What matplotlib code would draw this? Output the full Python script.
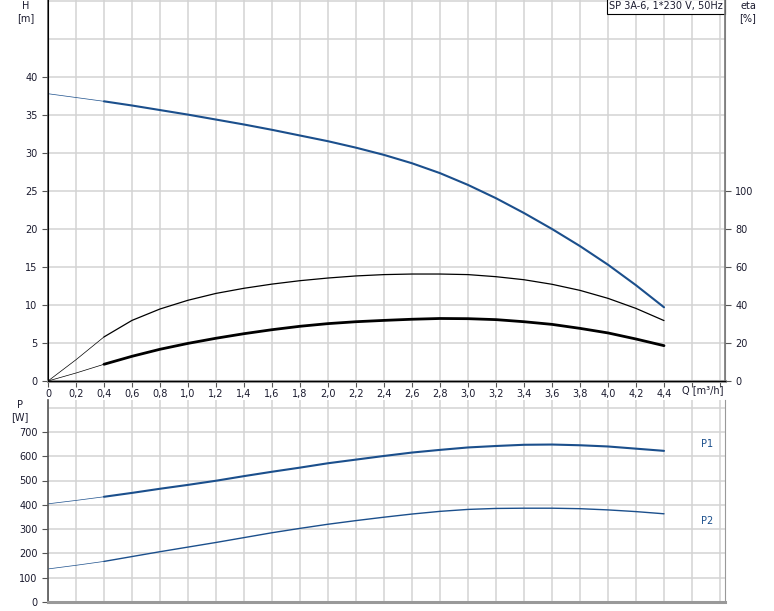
import matplotlib
matplotlib.use("Agg")
import matplotlib.pyplot as plt
import numpy as np

plt.rcParams['font.family'] = ['DejaVu Sans']
plt.rcParams['font.size'] = 7

# flow, m3/h
q = [0.0, 0.2, 0.4, 0.6, 0.8, 1.0, 1.2, 1.4, 1.6, 1.8, 2.0, 2.2,
     2.4, 2.6, 2.8, 3.0, 3.2, 3.4, 3.6, 3.8, 4.0, 4.2, 4.4]
# head, m
head = [37.8, 37.3, 36.8, 36.25, 35.65, 35.05, 34.4, 33.75, 33.05, 32.3, 31.55, 30.7,
        29.75, 28.65, 27.35, 25.8, 24.05, 22.1, 20.0, 17.75, 15.3, 12.6, 9.7]
# efficiency, %
eta_hyd = [0.0, 11.2, 23.2, 31.9, 37.9, 42.5, 46.1, 48.8, 51.0, 52.8, 54.2, 55.3,
           56.0, 56.3, 56.3, 56.0, 54.9, 53.3, 50.9, 47.7, 43.5, 38.2, 31.8]
eta_tot = [0.0, 4.2, 8.8, 13.0, 16.7, 19.8, 22.5, 24.9, 27.0, 28.8, 30.2, 31.2,
           31.9, 32.5, 32.9, 32.8, 32.3, 31.2, 29.8, 27.7, 25.3, 22.1, 18.6]
# power, W
p1 = [404, 418, 433, 449, 466, 482, 499, 518, 536, 553, 571, 586,
      601, 615, 626, 636, 642, 647, 648, 645, 640, 631, 622]
p2 = [136, 151, 167, 187, 207, 226, 245, 265, 285, 303, 320, 335,
      349, 362, 373, 381, 385, 386, 386, 384, 379, 372, 363]

x_ticks = [0, 0.2, 0.4, 0.6, 0.8, 1.0, 1.2, 1.4, 1.6, 1.8, 2.0, 2.2,
           2.4, 2.6, 2.8, 3.0, 3.2, 3.4, 3.6, 3.8, 4.0, 4.2, 4.4, 4.6, 4.8]
x_labels = [("%.1f" % v).replace(".", ",") if v > 0 else "0" for v in x_ticks[:23]] + ["", ""]

blue = "#1b4f8c"
grid_c = "#d3d3d3"
txt_c = "#1a1a2e"

fig = plt.figure(figsize=(7.74, 6.11), dpi=100)
ax = fig.add_axes([48 / 774, 1 - 381 / 611, 677 / 774, 381 / 611])
ax2 = ax.twinx()
axp = fig.add_axes([48 / 774, 1 - 602 / 611, 677 / 774, 202 / 611])

xmax = 677 / 140
ytop = 381 / 7.6

# first segment (0 - 0.4) drawn thin, rest of curve heavier
def two_part(a, xs, ys, lw, color):
    a.plot(xs[:3], ys[:3], color=color, lw=0.5, solid_capstyle="butt")
    a.plot(xs[2:], ys[2:], color=color, lw=lw, solid_capstyle="round",
           solid_joinstyle="round")

two_part(ax, q, head, 1.5, blue)
two_part(ax2, q, eta_hyd, 0.9, "black")
two_part(ax2, q, eta_tot, 2.0, "black")

two_part(axp, q, p1, 1.5, blue)
two_part(axp, q, p2, 1.0, blue)

for a in (ax, axp):
    a.set_xlim(0, xmax)
    a.set_xticks(x_ticks)
    a.grid(True, which="both", color=grid_c, lw=1.1)
    a.set_axisbelow(True)
    a.spines["top"].set_visible(False)
    a.spines["left"].set_color("#555555")
    a.spines["left"].set_linewidth(1.2)
    a.spines["bottom"].set_color("#999999")
    a.spines["bottom"].set_linewidth(2.2)
    a.spines["right"].set_color("#aaaaaa")
    a.tick_params(colors="#555555", labelcolor=txt_c, length=4, width=0.8)

ax.set_xticklabels(x_labels)
ax.set_ylim(0, ytop)
ax.set_yticks([0, 5, 10, 15, 20, 25, 30, 35, 40])
ax.set_yticks([45, 50], minor=True)
ax.tick_params(axis="y", which="minor", length=0)
ax.tick_params(axis="x", pad=2)

ax2.set_ylim(0, ytop * 4)
ax2.set_yticks([0, 20, 40, 60, 80, 100])
ax2.spines["top"].set_visible(False)
ax2.spines["right"].set_color("#777777")
ax2.spines["right"].set_linewidth(1.2)
ax2.tick_params(colors="#555555", labelcolor=txt_c, length=4, width=0.8)

axp.set_xticklabels([])
axp.tick_params(axis="x", length=0)
axp.set_ylim(0, 202 / 0.243)
axp.set_yticks([0, 100, 200, 300, 400, 500, 600, 700])
axp.set_yticks([800], minor=True)
axp.tick_params(axis="y", which="minor", length=0)
axp.spines["right"].set_color("#999999")

ax.text(4.68, -9 / 381, "Q [m³/h]", ha="center", va="center", color=txt_c,
        transform=ax.get_xaxis_transform())
fig.text(26 / 774, 1 - 6 / 611, "H", ha="center", va="center", color=txt_c)
fig.text(26 / 774, 1 - 18 / 611, "[m]", ha="center", va="center", color=txt_c)
fig.text(748 / 774, 1 - 6 / 611, "eta", ha="center", va="center", color=txt_c)
fig.text(748 / 774, 1 - 18 / 611, "[%]", ha="center", va="center", color=txt_c)
fig.text(20 / 774, 1 - 405 / 611, "P", ha="center", va="center", color=txt_c)
fig.text(20 / 774, 1 - 417 / 611, "[W]", ha="center", va="center", color=txt_c)
axp.text(4.71, 652, "P1", ha="center", va="center", color=blue)
axp.text(4.71, 333, "P2", ha="center", va="center", color=blue)

ax.text(0.997, 0.997, "SP 3A-6, 1*230 V, 50Hz", transform=ax.transAxes,
        ha="right", va="top", color=txt_c,
        bbox=dict(boxstyle="square,pad=0.25", fc="white", ec="black", lw=0.8))

fig.savefig("out.png", dpi=100)
